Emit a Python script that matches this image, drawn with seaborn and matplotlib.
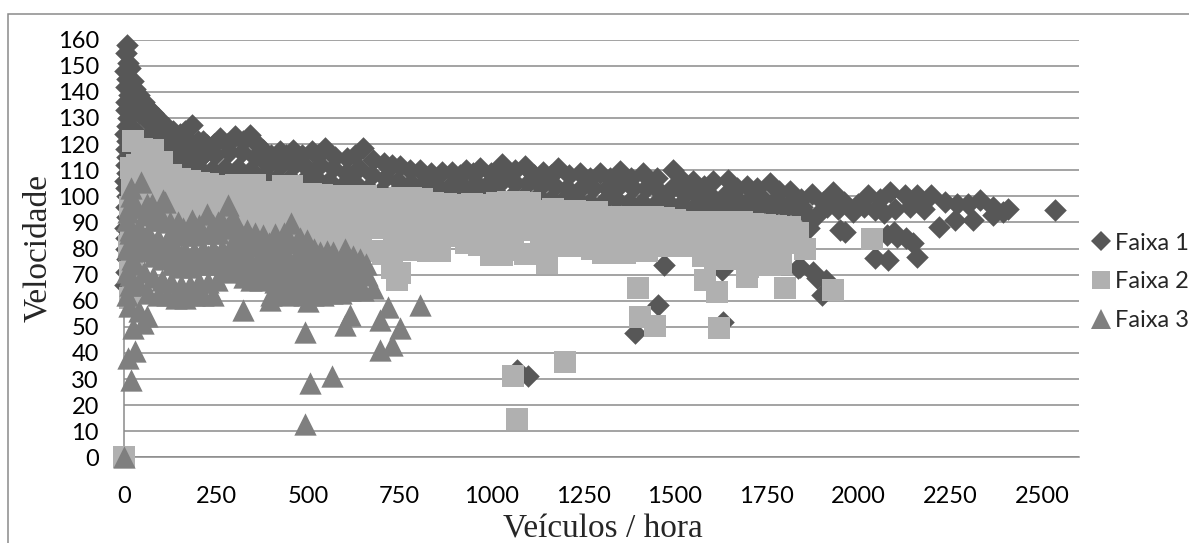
import matplotlib
matplotlib.use("Agg")
import matplotlib.pyplot as plt
from matplotlib.lines import Line2D
from matplotlib.patches import Rectangle
import pandas as pd
import seaborn as sns

# ---------------- data ----------------
series_names = ["Faixa 1", "Faixa 2", "Faixa 3"]
x_ticks = [0, 250, 500, 750, 1000, 1250, 1500, 1750, 2000, 2250, 2500]
y_ticks = [0, 10, 20, 30, 40, 50, 60, 70, 80, 90, 100, 110, 120, 130, 140, 150, 160]

# Faixa 1 (diamonds)
f1_col_x = [6, 3, 10, 2, 8, 4, 12, 5, 3, 9, 6, 2, 7, 4, 8, 3, 6, 2, 5, 8, 3, 6, 2, 5, 3, 7, 4, 2]
f1_col_y = [158, 155, 151, 148, 145, 142, 139, 136, 133, 130, 127, 124, 121, 118, 115, 112, 109, 106,
            103, 100, 96, 92, 88, 84, 80, 76, 71, 66]
f1_slope_x = [15, 22, 30, 40, 52, 65, 78, 90, 102, 118, 133, 150, 165, 183, 200]
f1_slope_y = [149, 144, 141, 139, 136, 134, 132, 130, 128, 126, 125, 124, 125, 127.5, 121]
f1_fillA_x = [25, 40, 55, 70, 85, 100, 115, 130, 145, 160, 175, 190]
f1_fillA_y = [134, 132, 130, 128, 126, 124, 122, 121, 120, 120, 121, 118]
f1_fillB_x = [20, 38, 56, 74, 92, 110, 128, 146, 164, 182, 200]
f1_fillB_y = [126, 124, 122, 120, 118, 117, 116, 115, 115, 114, 114]
f1_fillC_x = [30, 50, 70, 90, 110, 130, 150, 170, 190]
f1_fillC_y = [118, 116, 114, 112, 111, 110, 109, 109, 108]
f1_fillD_x = [25, 50, 75, 100, 125, 150, 175, 200]
f1_fillD_y = [110, 108, 106, 105, 104, 104, 103, 103]
f1_top_x = [215, 224, 243, 260, 279, 301, 322, 342, 360, 378, 400, 424, 441, 460, 485, 510, 528, 547,
            573, 606, 629, 650, 678, 706, 728, 751, 778, 805, 835, 864, 893, 913, 932, 950, 969, 999,
            1028, 1045, 1064, 1092, 1116, 1141, 1162, 1182, 1212, 1242, 1268, 1296, 1324, 1350, 1380,
            1414, 1450, 1496, 1522, 1550, 1578, 1605, 1645, 1669, 1696, 1725, 1759, 1785, 1814]
f1_top_y = [121, 119.7, 120, 122.3, 120, 123, 121, 123.5, 120, 117.9,
            116, 117.2, 116, 117.9, 116, 117.2, 116, 118.4, 115, 114.6,
            116, 118.4, 114, 112.7, 112, 111.5, 110, 110.2, 109, 109.5,
            109.5, 108, 110.2, 109, 110.8, 109, 112.3, 109, 110.2, 111.5,
            108, 109.5, 108, 110.8, 108, 108.9, 107, 108.9, 107, 109.8,
            107, 108.9, 107, 110.2, 106, 105.7, 104, 105.7, 106.4, 103,
            103.8, 103, 105, 102, 101.9]
f1_midB_x = [213, 248, 284, 320, 355, 391, 426, 462, 497, 533, 568, 604, 639, 675, 710, 746, 781, 817,
             852, 888, 923, 959, 994, 1030, 1065, 1101, 1136, 1172, 1207, 1243, 1278, 1314, 1349, 1385,
             1420, 1456, 1491, 1527, 1562, 1598, 1633, 1669, 1704, 1740, 1775, 1811, 1846]
f1_midB_y = [116, 116, 117, 117, 115, 112, 112, 112, 111, 112,
             111, 109, 111, 108, 107, 106, 105, 105, 104, 104,
             104, 105, 105, 106, 105, 105, 104, 104, 103, 103,
             103, 103, 104, 103, 103, 102, 103, 101, 100, 100,
             100, 99, 99, 99, 99, 97, 96]
f1_midC_x = [203, 238, 274, 309, 345, 380, 416, 451, 487, 522, 558, 593, 629, 664, 700, 735, 771, 806,
             842, 877, 913, 948, 984, 1019, 1055, 1090, 1126, 1161, 1197, 1232, 1268, 1303, 1339, 1374,
             1410, 1445, 1481, 1516, 1552, 1587, 1623, 1658, 1694, 1729, 1765, 1800]
f1_midC_y = [111, 110, 111, 111, 110, 108, 107, 107, 106, 107,
             106, 104, 105, 103, 102, 101, 100, 100, 100, 100,
             100, 100, 101, 101, 100, 100, 100, 99, 99, 99,
             98, 98, 99, 98, 98, 97, 98, 97, 96, 96,
             96, 96, 95, 96, 95, 95]
f1_lowD_x = [218, 254, 289, 325, 360, 396, 431, 467, 502, 538, 573, 609, 644, 680]
f1_lowD_y = [106, 106, 106, 105, 105, 104, 103, 103, 102, 102, 101, 101, 100, 99]
f1_right_x = [1845, 1873, 1903, 1931, 1960, 2000, 2027, 2060, 2087, 2127, 2159, 2199, 2235, 2268,
              2299, 2331, 2368, 2408, 2536]
f1_right_y = [99, 101, 98, 101.6, 98, 97, 100.4, 99, 101.6, 100.4, 100.4, 100.4, 98, 97.2,
              97.2, 98.5, 96, 95.3, 94.7]
f1_right2_x = [1830, 1860, 1887, 1915, 1945, 1985, 2015, 2045, 2069, 2100, 2140, 2180, 2219, 2263,
               2313, 2368, 2395]
f1_right2_y = [95, 93, 92.7, 96, 95, 94, 96, 94.7, 93.5, 95, 96, 95, 88.3, 90.8, 90.8, 92.7, 94]
f1_out_x = [1963, 1950, 2045, 2082, 2159, 2150, 2131, 2105, 2078, 2096, 1841, 1887, 1913, 1900, 1877,
            1836, 1469, 1627, 1455, 1392, 1632, 1069, 1100, 1866]
f1_out_y = [86.4, 87, 76.2, 75.6, 76.8, 82, 84, 84.5, 85, 86.4, 73, 68.6, 67.9, 62.2, 71,
            72.4, 73.7, 71.8, 58.4, 47.6, 52, 33.6, 31.3, 88]

# Faixa 2 (squares)
f2_col_x = [0, 22, 18, 25, 20, 15, 24, 18, 12, 20, 16, 22, 14]
f2_col_y = [0, 121, 111, 106, 101, 96, 91, 86, 81, 76, 71, 66, 61]
f2_top_x = [48, 78, 101, 127, 152, 178, 203, 228, 254, 279, 304, 330, 355, 380, 406, 431, 456, 482,
            507, 538, 568, 599, 629, 659, 690, 720, 751, 781, 812, 842, 877, 913, 948, 984, 1014,
            1045, 1075, 1106, 1136, 1167, 1197, 1228, 1258, 1288, 1319, 1349, 1380, 1410, 1440,
            1471, 1501, 1532, 1562, 1593, 1623, 1653, 1684, 1714, 1745, 1775, 1806, 1836]
f2_top_y = [118, 117.6, 113, 108, 106.7, 106, 105, 104.7, 104, 104,
            104.5, 104.5, 104.5, 101.5, 101.5, 104, 104, 101, 101, 100.5,
            100, 100, 99.5, 100, 99, 98.5, 99.3, 99.3, 99, 97.5,
            97, 96.5, 97, 96.5, 97.5, 98, 98, 97.5, 94.5, 95,
            94.5, 94.5, 94, 94, 92, 92, 92, 92, 92, 91.5,
            91, 90, 90, 90, 90, 90, 90, 89.5, 89, 88.7,
            88.3, 86]
f2_r2_x = [35, 62, 90, 114, 140, 165, 190, 216, 241, 266, 292, 317, 342, 368, 393, 418, 444, 469, 495,
           522, 553, 583, 614, 644, 674, 705, 735, 766, 796, 827, 860, 895, 931, 966, 999, 1030, 1060,
           1091, 1121, 1152, 1182, 1212, 1243, 1273, 1304, 1334, 1364, 1395, 1425, 1456, 1486, 1517,
           1547, 1577, 1608, 1638, 1669, 1699, 1730, 1760, 1790]
f2_r2_y = [112, 110, 108, 105, 102, 100, 100, 99, 98, 98,
           98, 97, 97, 97, 96, 96, 95, 96, 96, 95,
           95, 94, 94, 94, 94, 93, 93, 93, 92, 92,
           92, 91, 91, 91, 91, 92, 92, 92, 91, 89,
           89, 90, 89, 89, 88, 88, 87, 87, 87, 87,
           86, 86, 86, 85, 85, 85, 85, 85, 84, 84,
           84]
f2_r3_x = [20, 50, 76, 101, 127, 152, 178, 203, 228, 254, 279, 304, 330, 355, 380, 406, 431, 456, 482,
           507, 538, 568, 599, 629, 659, 690, 720, 751, 781, 812, 842, 877, 913, 948, 984, 1014, 1045,
           1075, 1106, 1136, 1167, 1197, 1228, 1258, 1288, 1319, 1349, 1380, 1410, 1440, 1471, 1501,
           1532, 1562, 1593, 1623, 1653, 1684, 1714, 1745, 1775, 1806, 1836]
f2_r3_y = [104, 104, 102, 100, 97, 95, 94, 94, 93, 92,
           93, 92, 91, 91, 91, 90, 90, 90, 90, 90,
           89, 89, 89, 88, 88, 88, 88, 87, 87, 86,
           86, 86, 86, 87, 86, 86, 87, 87, 87, 86,
           85, 84, 84, 84, 83, 83, 83, 82, 82, 82,
           82, 81, 81, 81, 81, 80, 80, 80, 80, 80,
           80, 82, 82]
f2_r4_y = [96, 96, 95, 93, 90, 88, 88, 87, 86, 86,
           86, 85, 85, 85, 85, 84, 84, 84, 84, 84,
           83, 83, 82, 80, 79, 78, 79.6, 79.6, 79.6, 79,
           79, 84.7, 82, 81.5, 77.7, 77.7, 79.6, 78, 78, 74.5,
           80.8, 80.8, 80.8, 80, 78.4, 78.4, 78.4, 79, 79, 80.8,
           80.8, 80.8, 80.8, 77, 76, 77, 76, 76, 77, 78,
           76]
f2_out_x = [1059, 1069, 1200, 728, 742, 751, 1400, 1405, 1446, 1582, 1614, 1619, 1696, 1801, 1931,
            2036, 1759, 1855, 1814, 1830, 1790, 1700]
f2_out_y = [31, 14.5, 36.6, 72.5, 68, 70.6, 64.8, 53.9, 50.4, 68, 63.5, 49.5, 69.2, 64.8, 64,
            83.8, 73.7, 80, 88.3, 84, 74, 73]

# Faixa 3 (triangles)
f3_col_x = [0, 19, 10, 28, 24, 50, 61, 40, 12, 8, 15, 6, 20, 10, 14, 8, 12, 18]
f3_col_y = [0, 29.8, 38, 40.6, 49.6, 51.4, 54, 56, 58, 62, 66, 71, 76, 81, 86, 91, 96, 100]
f3_top_x = [19, 46, 75, 105, 111, 147, 183, 203, 224, 254, 283, 304, 333, 355, 378, 410, 436, 455,
            477, 497, 517, 533, 553, 569, 600, 624, 641, 659]
f3_top_y = [103, 105.3, 97, 98.5, 98, 90.2, 90.8, 89, 93.4, 90, 96.6, 89, 87, 86, 85.1, 85.7, 86,
            89.6, 84, 83.2, 80, 78.7, 79, 78.7, 80, 77, 76, 74]
f3_r8_x = [60, 90, 125, 160, 195, 240, 265, 295, 320, 345, 370, 395, 420, 445, 470, 490, 520, 545,
           565, 590, 615]
f3_r8_y = [97, 94, 90, 88, 88, 89, 90, 92, 85, 84, 82, 82, 82, 84, 83, 80, 77, 76, 76, 76, 74]
f3_r2_x = [10, 30, 55, 80, 105, 130, 155, 180, 205, 230, 255, 280, 305, 330, 355, 380, 405, 430, 455,
           480, 505, 530, 555, 580, 605, 630]
f3_r2_y = [94, 96, 93, 91, 91, 87, 85, 85, 86, 86,
           86, 88, 84, 82, 81, 80, 80, 81, 82, 79,
           76, 74, 74, 74, 73, 71]
f3_r3_x = [15, 40, 65, 90, 115, 140, 165, 190, 215, 240, 265, 290, 315, 340, 365, 390, 415, 440, 465,
           490, 515, 540, 565, 590, 615, 640]
f3_r3_y = [87, 88, 86, 84, 83, 80, 79, 79, 80, 80,
           80, 81, 78, 76, 75, 75, 75, 76, 76, 73,
           71, 69, 69, 69, 68, 67]
f3_r7_x = [28, 53, 78, 103, 128, 153, 178, 203, 228, 253, 278, 303, 328, 353, 378, 403, 428, 453,
           478, 503, 528, 553, 578, 603, 628]
f3_r7_y = [84, 84, 82, 80, 79, 77, 76, 76, 77, 77, 77, 78, 75, 73, 72, 72, 72, 73, 73, 70,
           69, 67, 67, 67, 67]
f3_r4_y = [80, 81, 79, 77, 76, 74, 73, 73, 74, 74,
           74, 75, 72, 71, 70, 70, 70, 70, 70, 68,
           67, 65, 66, 66, 65, 66]
f3_r6_x = [28, 53, 78, 103, 128, 153, 178, 203, 228, 253, 300, 325, 385, 410, 435, 458, 480, 505,
           528, 553, 578, 603, 628]
f3_r6_y = [74, 71, 69, 68, 67, 66, 66, 67, 67, 68, 74, 69, 70, 67, 66, 67, 66, 65, 64, 65, 65, 66, 67]
f3_r5_x = [15, 40, 65, 90, 115, 140, 165, 190, 215, 240, 272, 292, 345, 368, 400, 420, 445, 465, 490,
           515, 540, 565, 590, 615]
f3_r5_y = [70, 66, 63, 62, 62, 61, 61, 62, 62, 62, 72, 71, 68, 68, 62, 63, 62, 63, 62,
           62, 62, 63, 63, 64]
f3_out_x = [324, 492, 505, 565, 492, 805, 696, 728, 751, 696, 600, 614, 718, 678, 650, 397, 500, 606,
            624, 660, 640]
f3_out_y = [56.5, 48.2, 28.5, 31, 12.6, 58.4, 41.2, 43, 49.5, 52.7, 50.8, 54.6, 57.7, 64.8, 64, 60.3,
            59.7, 66, 70, 70, 75]


def frame(blocks):
    xs, ys = [], []
    for bx, by in blocks:
        xs.extend(bx)
        ys.extend(by)
    return pd.DataFrame({"veiculos": xs, "velocidade": ys})


df1 = frame([(f1_col_x, f1_col_y), (f1_slope_x, f1_slope_y), (f1_fillA_x, f1_fillA_y),
             (f1_fillB_x, f1_fillB_y), (f1_fillC_x, f1_fillC_y), (f1_fillD_x, f1_fillD_y),
             (f1_top_x, f1_top_y), (f1_midB_x, f1_midB_y), (f1_midC_x, f1_midC_y),
             (f1_lowD_x, f1_lowD_y), (f1_right_x, f1_right_y), (f1_right2_x, f1_right2_y),
             (f1_out_x, f1_out_y)])
df2 = frame([(f2_col_x, f2_col_y), (f2_top_x, f2_top_y), (f2_r2_x, f2_r2_y), (f2_r3_x, f2_r3_y),
             (f2_r2_x, f2_r4_y), (f2_out_x, f2_out_y)])
df3 = frame([(f3_col_x, f3_col_y), (f3_top_x, f3_top_y), (f3_r8_x, f3_r8_y), (f3_r2_x, f3_r2_y),
             (f3_r3_x, f3_r3_y), (f3_r7_x, f3_r7_y), (f3_r2_x, f3_r4_y), (f3_r6_x, f3_r6_y),
             (f3_r5_x, f3_r5_y), (f3_out_x, f3_out_y)])

# ---------------- style ----------------
C1, C2, C3 = "#575757", "#b0b0b0", "#7f7f7f"
GRID = "#8a8a8a"

sns.set_style("white")
plt.rcParams["font.family"] = ["Lato", "DejaVu Sans"]

fig = plt.figure(figsize=(11.89, 5.43), dpi=100)
ax = fig.add_axes([0.1047, 0.1578, 0.8024, 0.7691])

sns.scatterplot(data=df1, x="veiculos", y="velocidade", marker="D", s=132, color=C1,
                linewidth=0, ax=ax, clip_on=False, zorder=3)
sns.scatterplot(data=df2, x="veiculos", y="velocidade", marker="s", s=250, color=C2,
                linewidth=0, ax=ax, clip_on=False, zorder=3)
sns.scatterplot(data=df3, x="veiculos", y="velocidade", marker="^", s=258, color=C3,
                linewidth=0, ax=ax, clip_on=False, zorder=3)

ax.set_xlim(0, 2600)
ax.set_ylim(0, 160)
ax.set_xticks(x_ticks)
ax.set_yticks(y_ticks)
ax.set_xticklabels([str(v) for v in x_ticks])
ax.set_yticklabels([str(v) for v in y_ticks])
ax.yaxis.grid(True, color=GRID, linewidth=1.1)
ax.xaxis.grid(False)
ax.set_axisbelow(True)
for side in ["top", "right"]:
    ax.spines[side].set_visible(False)
for side in ["left", "bottom"]:
    ax.spines[side].set_color(GRID)
    ax.spines[side].set_linewidth(1.1)
ax.tick_params(axis="x", direction="in", length=5.8, width=1.0, color=GRID, pad=21,
               labelsize=17, labelcolor="#000000")
ax.tick_params(axis="y", length=0, pad=18.4, labelsize=17, labelcolor="#000000")

ax.set_xlabel("Veículos / hora", fontfamily="Liberation Serif", fontsize=24)
ax.xaxis.set_label_coords(0.501, -0.193)
ax.xaxis.label.set_va("baseline")
ax.set_ylabel("Velocidade", fontfamily="Liberation Serif", fontsize=24)
ax.yaxis.set_label_coords(-0.0907, 0.501)
ax.yaxis.label.set_va("center")

handles = [
    Line2D([], [], linestyle="none", marker="D", markersize=10.6, color=C1, markeredgewidth=0),
    Line2D([], [], linestyle="none", marker="s", markersize=13, color=C2, markeredgewidth=0),
    Line2D([], [], linestyle="none", marker="^", markersize=14.4, color=C3, markeredgewidth=0),
]
fig.legend(handles, series_names, loc="upper left", bbox_to_anchor=(0.9158, 0.5716),
           bbox_transform=fig.transFigure, frameon=False, fontsize=17, handlelength=1.0,
           handletextpad=0.1, labelspacing=0.75, borderpad=0, borderaxespad=0)

fig.add_artist(Rectangle((8 / 1189, -0.1), 1.2, 1 - 14 / 543 + 0.1, transform=fig.transFigure,
                         fill=False, edgecolor=GRID, linewidth=1.1))

fig.savefig("out.png", dpi=100)
